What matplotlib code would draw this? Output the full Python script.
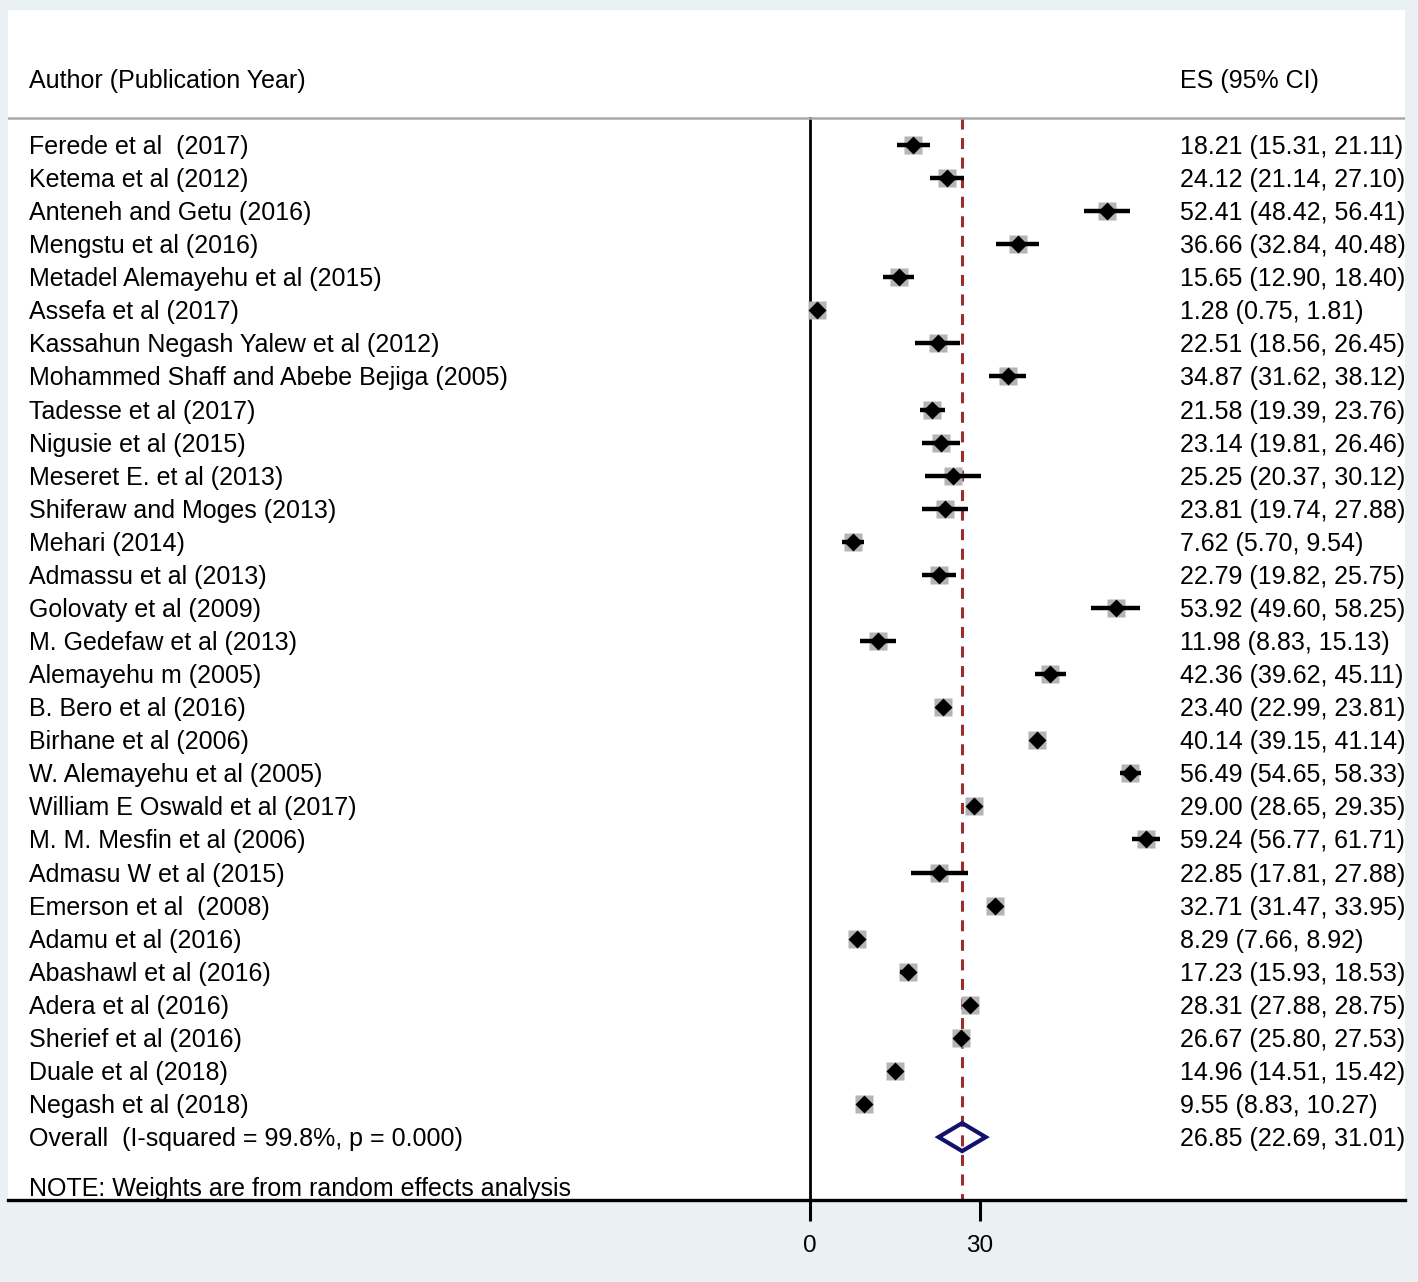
import numpy as np
import matplotlib.pyplot as plt
from matplotlib.patches import Polygon

plt.rcParams['font.family'] = ['Liberation Sans', 'DejaVu Sans']

# study data
authors = ["Ferede et al  (2017)", "Ketema et al (2012)", "Anteneh and Getu (2016)",
           "Mengstu et al (2016)", "Metadel Alemayehu et al (2015)", "Assefa et al (2017)",
           "Kassahun Negash Yalew et al (2012)", "Mohammed Shaff and Abebe Bejiga (2005)",
           "Tadesse et al (2017)", "Nigusie et al (2015)", "Meseret E. et al (2013)",
           "Shiferaw and Moges (2013)", "Mehari (2014)", "Admassu et al (2013)",
           "Golovaty et al (2009)", "M. Gedefaw et al (2013)", "Alemayehu m (2005)",
           "B. Bero et al (2016)", "Birhane et al (2006)", "W. Alemayehu et al (2005)",
           "William E Oswald et al (2017)", "M. M. Mesfin et al (2006)", "Admasu W et al (2015)",
           "Emerson et al  (2008)", "Adamu et al (2016)", "Abashawl et al (2016)",
           "Adera et al (2016)", "Sherief et al (2016)", "Duale et al (2018)", "Negash et al (2018)"]
es = [18.21, 24.12, 52.41, 36.66, 15.65, 1.28, 22.51, 34.87, 21.58, 23.14, 25.25, 23.81,
      7.62, 22.79, 53.92, 11.98, 42.36, 23.40, 40.14, 56.49, 29.00, 59.24, 22.85, 32.71,
      8.29, 17.23, 28.31, 26.67, 14.96, 9.55]
lo = [15.31, 21.14, 48.42, 32.84, 12.90, 0.75, 18.56, 31.62, 19.39, 19.81, 20.37, 19.74,
      5.70, 19.82, 49.60, 8.83, 39.62, 22.99, 39.15, 54.65, 28.65, 56.77, 17.81, 31.47,
      7.66, 15.93, 27.88, 25.80, 14.51, 8.83]
hi = [21.11, 27.10, 56.41, 40.48, 18.40, 1.81, 26.45, 38.12, 23.76, 26.46, 30.12, 27.88,
      9.54, 25.75, 58.25, 15.13, 45.11, 23.81, 41.14, 58.33, 29.35, 61.71, 27.88, 33.95,
      8.92, 18.53, 28.75, 27.53, 15.42, 10.27]
overall = (26.85, 22.69, 31.01)
overall_label = "Overall  (I-squared = 99.8%, p = 0.000)"
note = "NOTE: Weights are from random effects analysis"

W, H = 1418, 1282
fig = plt.figure(figsize=(W / 100, H / 100), dpi=100, facecolor='#e9f1f2')
ax = fig.add_axes([8 / W, (H - 1200) / H, (1405 - 8) / W, (1200 - 10) / H])
ax.set_facecolor('white')

px = 170 / 30.0  # pixels per unit
ax.set_xlim((8 - 810) / px, (1405 - 810) / px)
row = 33.07
ybot = (1200 - 145) / row
ax.set_ylim(ybot, (10 - 145) / row)

for s in ['top', 'left', 'right']:
    ax.spines[s].set_visible(False)
ax.spines['bottom'].set_linewidth(2.4)
ax.set_xticks([0, 30])
ax.tick_params(axis='x', length=15, width=2.2, labelsize=17.5, pad=10)
ax.set_yticks([])

fs = 18
xlab = (29 - 810) / px
xes = (1180 - 810) / px
dy = 2 / row  # small downward nudge for text
n = len(es)
ys = np.arange(n)

# header
ax.text(xlab, -2.0 + dy, "Author (Publication Year)", fontsize=fs, va='center')
ax.text(xes, -2.0 + dy, "ES (95% CI)", fontsize=fs, va='center')
ax.axhline(-0.82, color='#a9a9a9', lw=1.8)

# reference lines
ax.plot([0, 0], [-0.82, ybot], color='black', lw=2.0, zorder=1)
ax.plot([overall[0], overall[0]], [-0.82, ybot], color='#9b2d30', lw=2.2,
        dashes=(3.6, 2.8), zorder=1)

# studies
ax.plot(es, ys, 's', color='#b4b4b4', ms=13.5, mec='none', zorder=2)
ax.hlines(ys, lo, hi, color='black', lw=3.2, zorder=3)
ax.plot(es, ys, 'D', color='black', ms=8.8, mec='none', zorder=4)
for i in range(n):
    ax.text(xlab, i + dy, authors[i], fontsize=fs, va='center')
    ax.text(xes, i + dy, "%.2f (%.2f, %.2f)" % (es[i], lo[i], hi[i]), fontsize=fs, va='center')

# overall diamond
yo = n
dh = 14 / row
diamond = Polygon([[overall[1], yo], [overall[0], yo - dh], [overall[2], yo],
                   [overall[0], yo + dh]], closed=True, fill=False,
                  edgecolor='#12126e', lw=3.0, zorder=5)
ax.add_patch(diamond)
ax.text(xlab, yo + dy, overall_label, fontsize=fs, va='center')
ax.text(xes, yo + dy, "%.2f (%.2f, %.2f)" % overall, fontsize=fs, va='center')

ax.text(xlab, (1187 - 145) / row + dy, note, fontsize=fs, va='center')

fig.savefig('out.png', dpi=100, facecolor=fig.get_facecolor())
